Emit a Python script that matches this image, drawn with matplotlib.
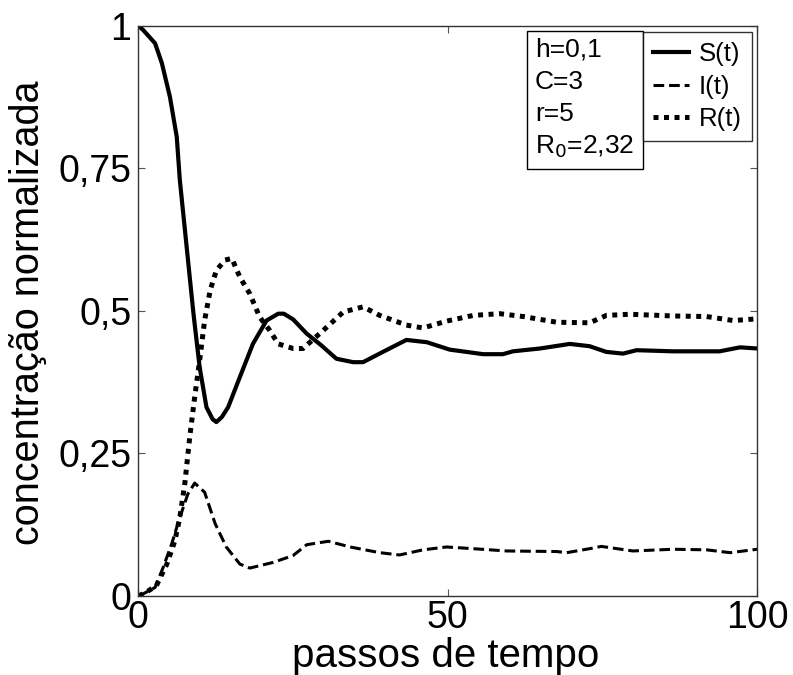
import matplotlib
matplotlib.use("Agg")
import matplotlib.pyplot as plt
from matplotlib.lines import Line2D

plt.rcParams['font.family'] = ['Liberation Sans', 'DejaVu Sans']

# S(t)
s_x = [0, 0.8, 2.7, 3.8, 5.1, 6.2, 6.7, 7.8, 8.9, 9.9, 11.0, 12.0, 12.6, 13.5, 14.5, 16.4,
       18.5, 20.7, 22.6, 23.5, 25.0, 27.2, 29.5, 32.0, 34.7, 36.3, 39.5, 43.3, 46.6,
       50.3, 55.7, 58.9, 60.5, 64.9, 69.7, 72.9, 75.6, 78.3, 80.5, 86.4, 93.9, 97.2, 100]
s_y = [1.0, 0.992, 0.969, 0.934, 0.875, 0.805, 0.729, 0.612, 0.495, 0.401, 0.331, 0.31,
       0.305, 0.314, 0.331, 0.384, 0.442, 0.483, 0.495, 0.495, 0.485, 0.46, 0.44, 0.416,
       0.41, 0.41, 0.428, 0.449, 0.445, 0.432, 0.424, 0.424, 0.429, 0.434, 0.442, 0.438,
       0.428, 0.425, 0.431, 0.429, 0.429, 0.436, 0.434]

# I(t)
i_x = [0, 0.8, 2.7, 4.0, 5.4, 6.7, 8.0, 9.1, 10.7, 12.4, 14.2, 16.4, 18.0, 21.8, 25.0,
       27.2, 30.7, 34.2, 39.0, 42.2, 46.0, 49.8, 54.1, 59.5, 67.6, 69.2, 72.9, 74.8,
       79.9, 86.4, 91.8, 95.6, 100]
i_y = [0.0, 0.004, 0.015, 0.05, 0.092, 0.138, 0.179, 0.198, 0.182, 0.127, 0.086, 0.056,
       0.049, 0.059, 0.071, 0.090, 0.096, 0.086, 0.076, 0.072, 0.081, 0.086, 0.083,
       0.079, 0.078, 0.076, 0.083, 0.087, 0.079, 0.082, 0.081, 0.076, 0.082]

# R(t)
r_x = [0, 1.3, 2.9, 4.6, 5.9, 6.7, 7.5, 8.3, 9.1, 9.9, 10.7, 11.6, 12.6, 14.0, 15.1,
       16.4, 18.0, 19.6, 21.2, 22.6, 25.0, 26.6, 29.9, 33.1, 36.3, 39.0, 43.3, 46.0,
       49.8, 54.1, 58.4, 62.2, 67.6, 72.9, 75.6, 79.4, 86.4, 91.8, 96.1, 100]
r_y = [0.0, 0.007, 0.018, 0.056, 0.097, 0.138, 0.197, 0.279, 0.349, 0.413, 0.483, 0.536,
       0.571, 0.589, 0.592, 0.559, 0.53, 0.489, 0.466, 0.442, 0.434, 0.434, 0.466,
       0.498, 0.507, 0.492, 0.475, 0.47, 0.482, 0.492, 0.495, 0.49, 0.48, 0.479,
       0.492, 0.494, 0.491, 0.49, 0.483, 0.486]

y_ticks = [0, 0.25, 0.5, 0.75, 1]
y_ticklabels = ['0', '0,25', '0,5', '0,75', '1']
x_ticks = [0, 50, 100]
x_ticklabels = ['0', '50', '100']
legend_labels = ['S(t)', 'I(t)', 'R(t)']
param_text = 'h=0,1\nC=3\nr=5\nR$_0$=2,32'

dash_i = (0, (3.5, 1.6))
dot_r = (0, (1, 1.1))

fig = plt.figure(figsize=(7.93, 6.75), dpi=100)
ax = fig.add_axes([0.1745, 0.117, 0.7805, 0.845])

ax.plot(s_x, s_y, color='black', lw=3.0)
ax.plot(i_x, i_y, color='black', lw=2.2, linestyle=dash_i)
ax.plot(r_x, r_y, color='black', lw=3.6, linestyle=dot_r)

ax.set_xlim(0, 100)
ax.set_ylim(0, 1)
ax.set_xticks(x_ticks)
ax.set_xticklabels(x_ticklabels)
ax.set_yticks(y_ticks)
ax.set_yticklabels(y_ticklabels)
ax.tick_params(direction='in', length=5, width=0.8, color='#555555',
               labelsize=27, top=True, right=True)
ax.tick_params(axis='x', pad=3)
ax.tick_params(axis='y', pad=5)
for sp in ax.spines.values():
    sp.set_color('#333333')
    sp.set_linewidth(1.0)

ax.set_xlabel('passos de tempo', fontsize=29)
ax.set_ylabel('concentração normalizada', fontsize=28.5)
ax.xaxis.set_label_coords(0.496, -0.072)
ax.yaxis.set_label_coords(-0.148, 0.497)

handles = [Line2D([], [], color='black', lw=3.0),
           Line2D([], [], color='black', lw=2.2, linestyle=dash_i),
           Line2D([], [], color='black', lw=3.6, linestyle=dot_r)]
leg = ax.legend(handles, legend_labels, loc='upper right',
                bbox_to_anchor=(0.992, 0.989), fontsize=18.5, frameon=True,
                fancybox=False, edgecolor='black', handlelength=1.4,
                handletextpad=0.4, borderpad=0.4, labelspacing=0.33,
                borderaxespad=0)
leg.get_frame().set_linewidth(1.0)
leg._legend_box.align = 'right'

ax.text(0.641, 0.979, param_text, transform=ax.transAxes, fontsize=19,
        va='top', ha='left', linespacing=1.42,
        bbox=dict(boxstyle='square,pad=0.32', fc='white', ec='black', lw=1.0))

fig.savefig('out.png', dpi=100)
